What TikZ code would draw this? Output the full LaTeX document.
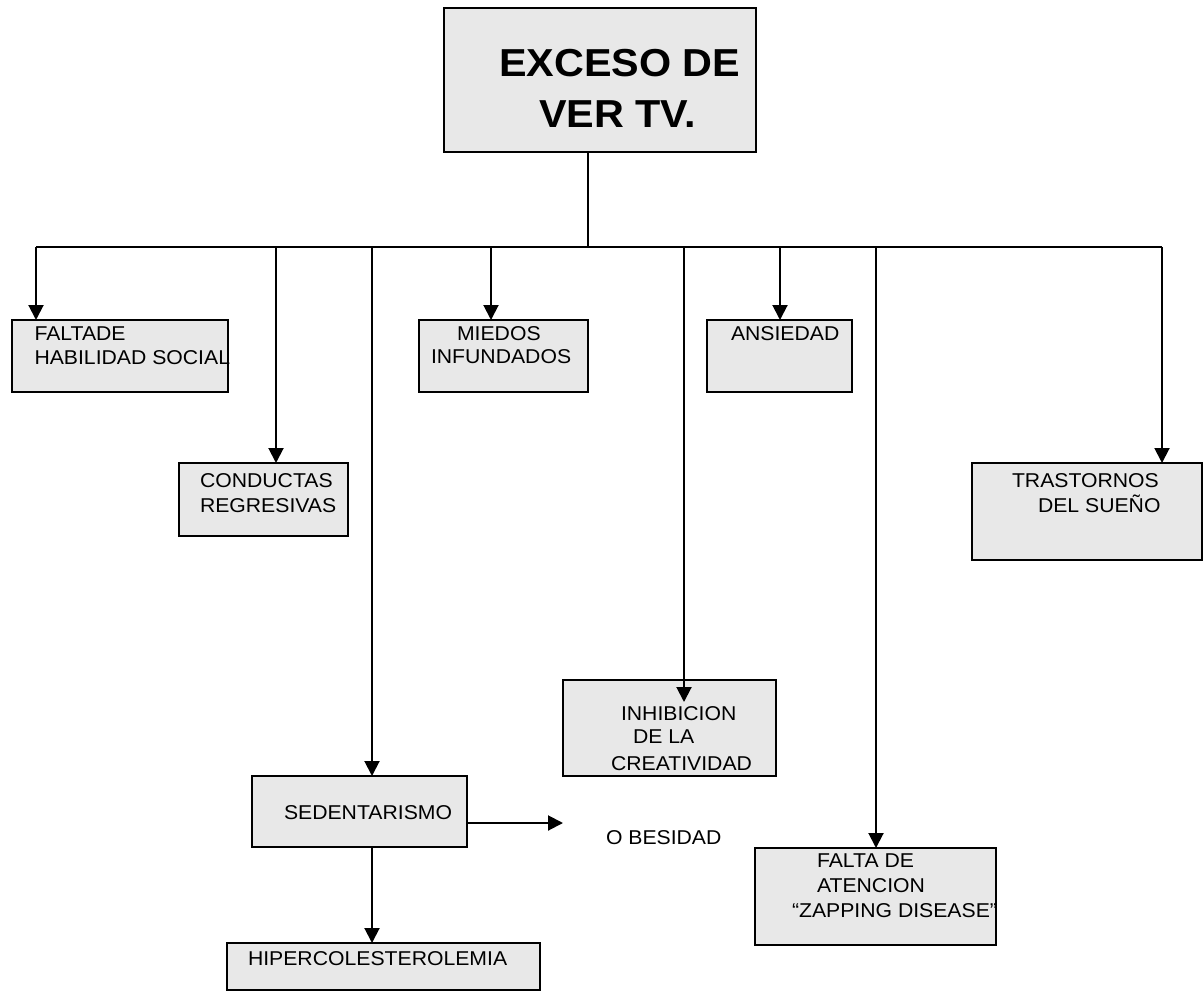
\documentclass[tikz,border=0pt]{standalone}
\usepackage{fontspec}
\setmainfont{Liberation Sans}
\usetikzlibrary{arrows.meta}
\definecolor{boxgray}{RGB}{232,232,232}
\newcommand\tx[4][\fontsize{20}{24}\selectfont]{\node[txt,font=#1] (#2) at (#3) {\scalebox{1.06}[1]{#4}};}
\begin{document}
\begin{tikzpicture}[x=1pt,y=-1pt,
  box/.style={draw=black,fill=boxgray,line width=2pt,inner sep=0pt,outer sep=0pt},
  txt/.style={inner sep=0pt,outer sep=0pt,anchor=base west},
  conn/.style={line width=2pt},
  arr/.style={conn,-{Triangle[length=15pt,width=15pt]}}]
\useasboundingbox (0,0) rectangle (1204,992);
% boxes
\node[box,minimum width=312pt,minimum height=144pt] (top) at (600,80) {};
\node[box,minimum width=216pt,minimum height=72pt] (faltade) at (120,356) {};
\node[box,minimum width=169pt,minimum height=73pt] (conductas) at (263.5,499.5) {};
\node[box,minimum width=169pt,minimum height=72pt] (miedos) at (503.5,356) {};
\node[box,minimum width=145pt,minimum height=72pt] (ansiedad) at (779.5,356) {};
\node[box,minimum width=230pt,minimum height=97pt] (trastornos) at (1087,511.5) {};
\node[box,minimum width=213pt,minimum height=96pt] (inhibicion) at (669.5,728) {};
\node[box,minimum width=215pt,minimum height=71pt] (sedent) at (359.5,811.5) {};
\node[box,minimum width=241pt,minimum height=97pt] (atencion) at (875.5,896.5) {};
\node[box,minimum width=313pt,minimum height=47pt] (hiper) at (383.5,966.5) {};
% texts
\tx[\fontsize{39}{46}\selectfont\bfseries]{t1}{499,77}{EXCESO DE}
\tx[\fontsize{39}{46}\selectfont\bfseries]{t2}{539,128}{VER TV.}
\tx{fa1}{34.5,340}{FALTADE}
\tx{fa2}{34.5,364}{HABILIDAD SOCIAL}
\tx{co1}{200,487}{CONDUCTAS}
\tx{co2}{200,512}{REGRESIVAS}
\tx{mi1}{457,340}{MIEDOS}
\tx{mi2}{431,363}{INFUNDADOS}
\tx{an1}{731,340}{ANSIEDAD}
\tx{tr1}{1012,487}{TRASTORNOS}
\tx{tr2}{1038,512}{DEL SUEÑO}
\tx{in1}{621,720}{INHIBICION}
\tx{in2}{633,743}{DE LA}
\tx{in3}{611,770}{CREATIVIDAD}
\tx{se1}{284,819}{SEDENTARISMO}
\tx{ob1}{606,844}{O BESIDAD}
\tx{at1}{817,867}{FALTA DE}
\tx{at2}{817,892}{ATENCION}
\tx{at3}{792,917}{“ZAPPING DISEASE”}
\tx{hi1}{248,965}{HIPERCOLESTEROLEMIA}
% bar coordinates
\coordinate (b0) at (588,247);
\coordinate (b1) at (36,247);
\coordinate (b2) at (276,247);
\coordinate (b3) at (372,247);
\coordinate (b4) at (491,247);
\coordinate (b5) at (684,247);
\coordinate (b6) at (780,247);
\coordinate (b7) at (876,247);
\coordinate (b8) at (1162,247);
\coordinate (inend) at (684,702);
\coordinate (obend) at (563,823);
% connectors
\draw[conn] (b0 |- top.south) -- (b0);
\draw[conn] (b1) -- (b8);
\draw[arr] (b1) -- (b1 |- faltade.north);
\draw[arr] (b2) -- (b2 |- conductas.north);
\draw[arr] (b3) -- (b3 |- sedent.north);
\draw[arr] (b4) -- (b4 |- miedos.north);
\draw[arr] (b5) -- (inend);
\draw[arr] (b6) -- (b6 |- ansiedad.north);
\draw[arr] (b7) -- (b7 |- atencion.north);
\draw[arr] (b8) -- (b8 |- trastornos.north);
\draw[arr] (sedent.east |- obend) -- (obend);
\draw[arr] (b3 |- sedent.south) -- (b3 |- hiper.north);
\end{tikzpicture}
\end{document}
